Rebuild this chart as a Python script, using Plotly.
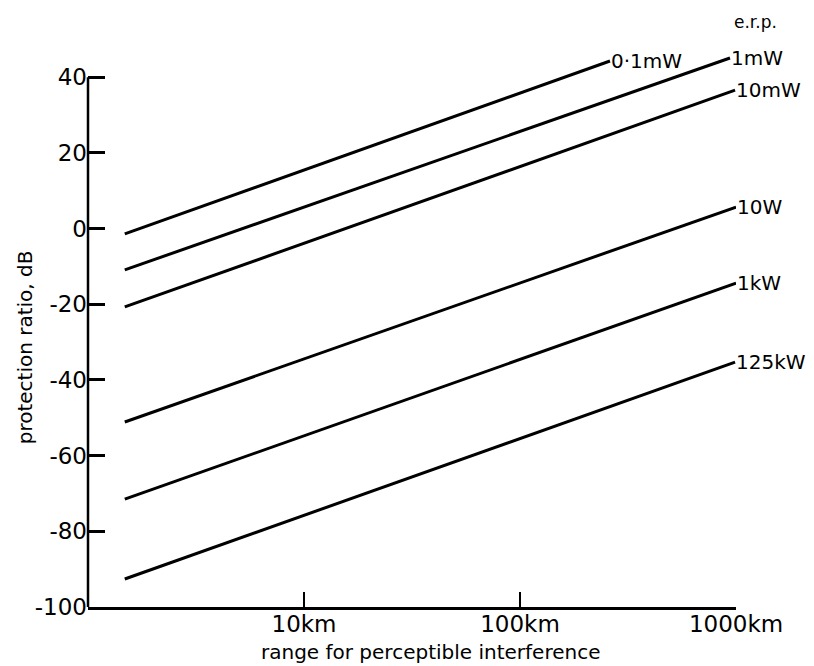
import numpy as np
import plotly.graph_objects as go

# Data
labels = ["0·1mW", "1mW", "10mW", "10W", "1kW", "125kW"]
start_km = [1.48, 1.48, 1.48, 1.48, 1.48, 1.48]
end_km = [261, 938, 990, 1000, 1000, 990]
start_db = [-1.4, -10.9, -20.7, -51.1, -71.5, -92.6]
end_db = [44.3, 45.1, 36.6, 5.7, -14.4, -35.3]

x_tickvals = [10, 100, 1000]
x_ticktext = ["10km", "100km", "1000km"]
y_tickvals = [-100, -80, -60, -40, -20, 0, 20, 40]
y_ticktext = ["-100", "-80", "-60", "-40", "-20", "0", "20", "40"]

FONT = "DejaVu Sans, sans-serif"

fig = go.Figure()
for i, lab in enumerate(labels):
    fig.add_trace(go.Scatter(
        x=[start_km[i], end_km[i]], y=[start_db[i], end_db[i]],
        mode="lines", line=dict(color="black", width=3),
        showlegend=False, hoverinfo="skip"))
    fig.add_annotation(
        x=np.log10(end_km[i]), y=end_db[i], xref="x", yref="y",
        text=lab, showarrow=False, xanchor="left", yanchor="middle",
        xshift=0, borderpad=0, font=dict(family=FONT, size=20, color="black"))

fig.add_annotation(x=np.log10(1000), y=1.0, xref="x", yref="paper",
                   text="e.r.p.", showarrow=False, xanchor="left",
                   yanchor="middle", yshift=25, xshift=-4,
                   font=dict(family=FONT, size=17, color="black"))

# y axis line only from -100 to 40
fig.add_shape(type="line", xref="paper", yref="y", x0=0, x1=0,
              y0=-100, y1=40, line=dict(color="black", width=2.5))

fig.add_annotation(x=-0.097, y=0.464, xref="paper", yref="paper",
                   text="protection ratio, dB", textangle=-90,
                   showarrow=False, xanchor="center", yanchor="middle",
                   font=dict(family=FONT, size=20, color="black"))
fig.add_annotation(x=0.529, y=-0.080, xref="paper", yref="paper",
                   text="range for perceptible interference",
                   showarrow=False, xanchor="center", yanchor="middle",
                   font=dict(family=FONT, size=20, color="black"))

fig.update_xaxes(type="log", range=[0, 3], tickvals=x_tickvals,
                 ticktext=x_ticktext, ticks="inside", ticklen=15,
                 tickwidth=2, tickcolor="black", showline=True,
                 linecolor="black", linewidth=2.5, showgrid=False,
                 zeroline=False, ticklabelstandoff=-5,
                 tickfont=dict(family=FONT, size=23, color="black"))
fig.update_yaxes(range=[-100, 48], tickvals=y_tickvals,
                 ticktext=y_ticktext, ticks="inside", ticklen=17,
                 tickwidth=2.5, tickcolor="black", showline=False,
                 showgrid=False, zeroline=False,
                 tickfont=dict(family=FONT, size=23, color="black"))

# page body has an 8px margin, so the figure is offset by (8, 8)
fig.update_layout(width=806, height=658, plot_bgcolor="white",
                  paper_bgcolor="white",
                  margin=dict(l=80, r=78, t=39, b=59, autoexpand=False))

fig.write_html("out.html")
